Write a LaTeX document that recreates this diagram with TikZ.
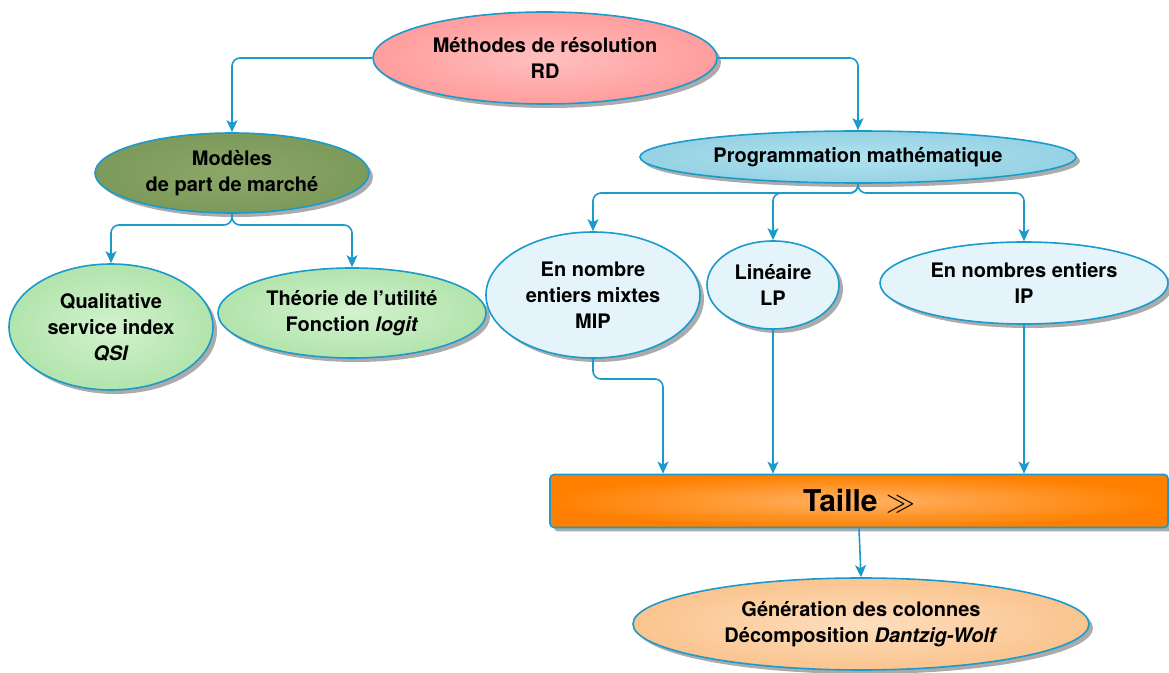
\documentclass[tikz,border=0pt]{standalone}
\usepackage{fontspec}
\setmainfont{TeX Gyre Heros}
\usetikzlibrary{shapes.geometric,shadows,arrows.meta}

\definecolor{bordblue}{HTML}{1A9BCB}

\begin{document}
\begin{tikzpicture}[x=0.5pt,y=-0.5pt]
		\begin{scope}[scale=1]
		
		\tikzstyle{myellipse}=[ellipse,
		draw=bordblue,
		line width=0.8pt,
		inner sep=0pt,
		align=center,
		font=\fontsize{10}{13}\selectfont\bfseries,
		drop shadow={shadow xshift=2pt,shadow yshift=-2pt,opacity=0.55,fill=black!60}
		]
		\tikzstyle{mybox}=[rectangle,
		rounded corners=2pt,
		draw=bordblue,
		line width=0.8pt,
		inner sep=0pt,
		font=\fontsize{15}{18}\selectfont\bfseries,
		drop shadow={shadow xshift=2pt,shadow yshift=-2pt,opacity=0.55,fill=black!60}
		]
		\tikzstyle{myarrow}=[draw=bordblue,
		line width=0.8pt,
		rounded corners=4pt,
		-{Stealth[length=6pt,width=5.5pt,inset=1.5pt]}
		]
		
		\useasboundingbox (0,0) rectangle (1169,673);
		
		\coordinate (pa1) at (545, 58);
		\coordinate (pa2) at (232, 173);
		\coordinate (pa3) at (858, 157);
		\coordinate (pa4) at (111, 327);
		\coordinate (pa5) at (352, 313);
		\coordinate (pa6) at (593, 295);
		\coordinate (pa7) at (773, 285);
		\coordinate (pa8) at (1024, 283);
		\coordinate (pa9) at (859, 501);
		\coordinate (pa10) at (861, 624);
		
		\node[myellipse,minimum width=172pt,minimum height=46pt,
		shading=radial,inner color=red!25!white,outer color=red!40!white!90!pink] (a1) at (pa1) {Méthodes de résolution\\RD};
		\node[myellipse,minimum width=137pt,minimum height=40pt,
		shading=radial,inner color={rgb,255:red,140;green,168;blue,105},outer color={rgb,255:red,124;green,154;blue,90}] (a2) at (pa2) {Modèles\\de part de marché};
		\node[myellipse,minimum width=218pt,minimum height=26pt,
		shading=radial,inner color={rgb,255:red,176;green,226;blue,238},outer color={rgb,255:red,150;green,210;blue,228}] (a3) at (pa3) {Programmation mathématique};
		\node[myellipse,minimum width=102pt,minimum height=63pt,
		shading=radial,inner color={rgb,255:red,210;green,242;blue,206},outer color={rgb,255:red,178;green,228;blue,172}] (a4) at (pa4) {Qualitative\\service index\\\textit{QSI}};
		\node[myellipse,minimum width=134pt,minimum height=45pt,
		shading=radial,inner color={rgb,255:red,210;green,242;blue,206},outer color={rgb,255:red,178;green,228;blue,172}] (a5) at (pa5) {Théorie de l’utilité\\Fonction \textit{logit}};
		\node[myellipse,minimum width=107pt,minimum height=63pt,
		fill={rgb,255:red,228;green,244;blue,250}] (a6) at (pa6) {En nombre\\entiers mixtes\\MIP};
		\node[myellipse,minimum width=66pt,minimum height=44pt,
		fill={rgb,255:red,228;green,244;blue,250}] (a7) at (pa7) {Linéaire\\LP};
		\node[myellipse,minimum width=144pt,minimum height=41pt,
		fill={rgb,255:red,228;green,244;blue,250}] (a8) at (pa8) {En nombres entiers\\IP};
		\node[mybox,minimum width=309pt,minimum height=26.5pt,
		shading=radial,inner color={rgb,255:red,255;green,178;blue,100},outer color={rgb,255:red,255;green,128;blue,0}] (a9) at (pa9) {Taille $\gg$};
		\node[myellipse,minimum width=228pt,minimum height=46pt,
		shading=radial,inner color={rgb,255:red,253;green,222;blue,190},outer color={rgb,255:red,250;green,196;blue,142}] (a10) at (pa10) {Génération des colonnes\\Décomposition \textit{Dantzig-Wolf}};
		
		\coordinate (b1) at (232, 225);
		\coordinate (b2) at (858, 193);
		\coordinate (b3) at (593, 379);
		
		\draw[myarrow] (a1.west) -| (a2.north);
		\draw[myarrow] (a1.east) -| (a3.north);
		
		\draw[myarrow] (a2.south) -- (b1) -| (a4.north);
		\draw[myarrow] (a2.south) -- (b1) -| (a5.north);
		
		\draw[myarrow] (a3.south) -- (b2) -| (a6.north);
		\draw[myarrow] (a3.south) -- (b2) -| (a7.north);
		\draw[myarrow] (a3.south) -- (b2) -| (a8.north);
		
		\draw[myarrow] (a6.south) -- (b3) -| (a9.north -| 663, 0);
		\draw[myarrow] (a7.south) -- (a9.north -| a7);
		\draw[myarrow] (a8.south) -- (a9.north -| a8);
		\draw[myarrow] (a9.south) -- (a10.north);
		
		\end{scope}
\end{tikzpicture}
\end{document}
